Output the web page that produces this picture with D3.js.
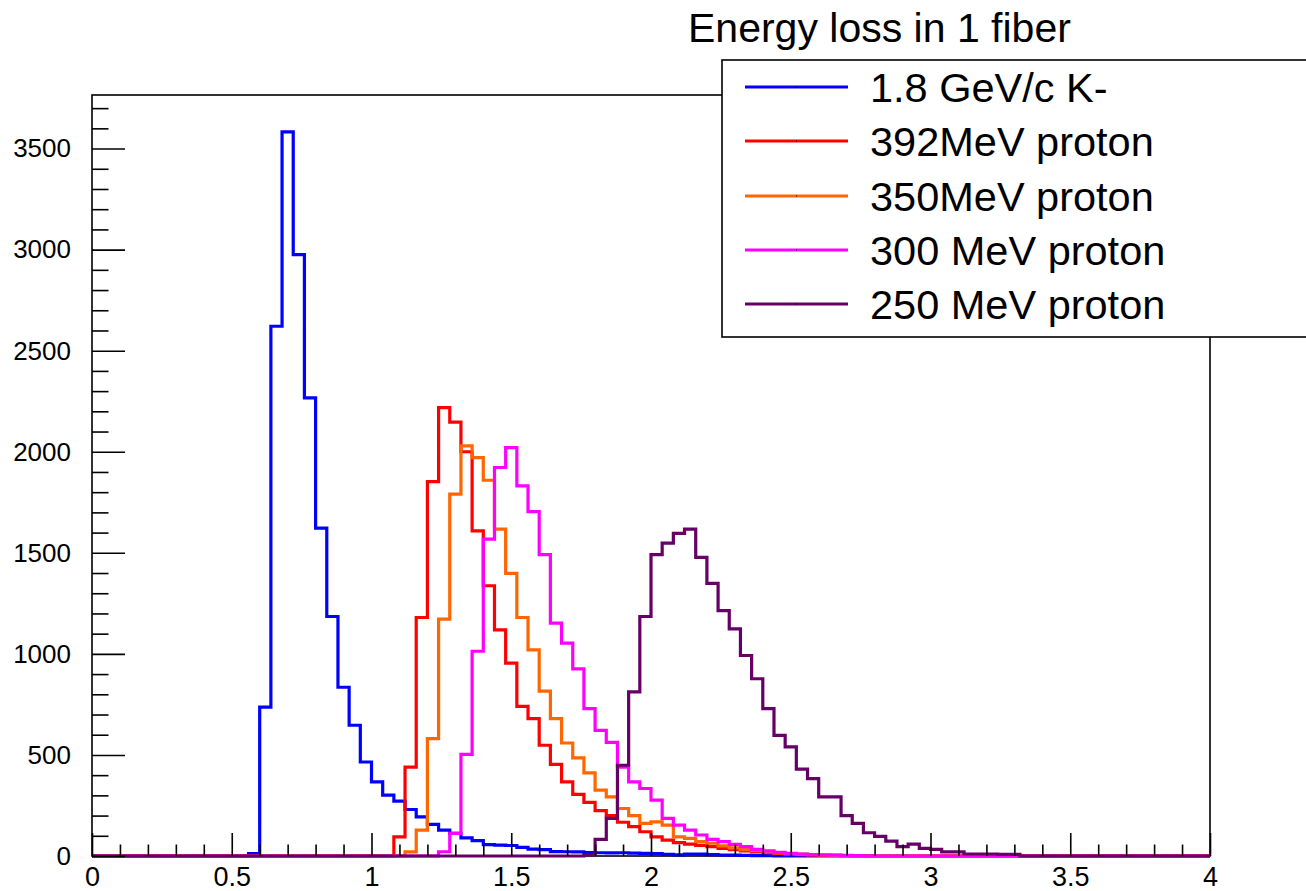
<!DOCTYPE html>
<html>
<head>
<meta charset="utf-8">
<script src="https://cdn.jsdelivr.net/npm/d3@7"></script>
<style>
  html, body { margin: 0; padding: 0; background: #ffffff; }
  svg { display: block; font-family: "Liberation Sans", Arial, Helvetica, sans-serif; }
</style>
</head>
<body>
<svg id="chart" width="1306" height="891"></svg>
<script>
// Histogram binning: 100 bins of 0.04 between 0 and 4
const xMin = 0, xMax = 4, binWidth = 0.04;
const yMax = 3765;

// Bin contents, each series listed from its first non-empty bin
const kaonStart = 0.56;
const kaonCounts = [12, 737, 2621, 3583, 2975, 2267, 1622, 1185, 835, 647, 465, 367, 301, 271, 230, 194,
  156, 128, 112, 90, 76, 56, 54, 52, 43, 34, 32, 22, 21, 20, 17, 16, 15, 16, 14, 13, 12, 8, 6, 10, 9, 7,
  5, 4, 3, 2, 2, 1];

const proton392Start = 1.08;
const proton392Counts = [95, 440, 1180, 1852, 2218, 2147, 2000, 1609, 1337, 1119, 954, 740, 680, 548, 453,
  367, 305, 265, 224, 200, 167, 145, 120, 95, 79, 66, 59, 53, 46, 38, 31, 25, 20, 16, 12, 9, 7, 5, 4, 3, 2, 1];

const proton350Start = 1.12;
const proton350Counts = [20, 128, 581, 1172, 1790, 2029, 1971, 1859, 1617, 1398, 1180, 1020, 816, 680, 559,
  485, 411, 326, 293, 235, 200, 161, 169, 153, 95, 87, 71, 63, 50, 40, 32, 26, 20, 15, 12, 9, 7, 5, 3, 2, 1];

const proton300Start = 1.24;
const proton300Counts = [21, 112, 503, 1013, 1568, 1922, 2020, 1831, 1704, 1491, 1152, 1053, 926, 729, 622,
  562, 440, 367, 334, 276, 186, 153, 128, 104, 82, 71, 58, 46, 33, 25, 18, 13, 10, 7, 5, 4, 3, 2, 1];

const proton250Start = 1.76;
const proton250Counts = [5, 82, 186, 449, 812, 1185, 1491, 1548, 1596, 1617, 1477, 1349, 1214, 1124, 992,
  877, 729, 597, 540, 430, 383, 293, 293, 200, 161, 115, 97, 74, 46, 59, 38, 33, 20, 20, 10, 10, 10, 8, 8];

const seriesNames = ["1.8 GeV/c K-", "392MeV proton", "350MeV proton", "300 MeV proton", "250 MeV proton"];
const seriesColors = ["#0000ff", "#ff0000", "#ff6600", "#ff00ff", "#660066"];
const seriesStarts = [kaonStart, proton392Start, proton350Start, proton300Start, proton250Start];
const seriesCounts = [kaonCounts, proton392Counts, proton350Counts, proton300Counts, proton250Counts];

const xTickValues = [0, 0.5, 1, 1.5, 2, 2.5, 3, 3.5, 4];
const xTickLabels = ["0", "0.5", "1", "1.5", "2", "2.5", "3", "3.5", "4"];
const yTickValues = [0, 500, 1000, 1500, 2000, 2500, 3000, 3500];
const yTickLabels = ["0", "500", "1000", "1500", "2000", "2500", "3000", "3500"];

const titleText = "Energy loss in 1 fiber";

// Frame geometry
const frame = { left: 92, top: 95, right: 1210, bottom: 856 };

const svg = d3.select("#chart");
const x = d3.scaleLinear().domain([xMin, xMax]).range([frame.left, frame.right]);
const y = d3.scaleLinear().domain([0, yMax]).range([frame.bottom, frame.top]);

// Frame box
svg.append("rect")
  .attr("x", frame.left).attr("y", frame.top)
  .attr("width", frame.right - frame.left).attr("height", frame.bottom - frame.top)
  .attr("fill", "none").attr("stroke", "#000").attr("stroke-width", 1.6);

// Step outline for one histogram
function stepPoints(start, counts) {
  const pts = [[xMin, 0], [start, 0]];
  counts.forEach((v, i) => {
    const lo = start + i * binWidth;
    pts.push([lo, v], [lo + binWidth, v]);
  });
  pts.push([start + counts.length * binWidth, 0], [xMax, 0]);
  return pts;
}

const line = d3.line().x(d => x(d[0])).y(d => y(d[1]));

const histLayer = svg.append("g");
seriesCounts.forEach((counts, k) => {
  histLayer.append("path")
    .attr("d", line(stepPoints(seriesStarts[k], counts)))
    .attr("fill", "none")
    .attr("stroke", seriesColors[k])
    .attr("stroke-width", 3.2)
    .attr("stroke-linejoin", "miter");
});

// X axis: major and minor ticks pointing into the frame
const xMinor = d3.range(0, 41).map(i => i / 10).filter(v => !xTickValues.includes(v));
svg.append("g")
  .attr("transform", `translate(0,${frame.bottom})`)
  .call(d3.axisBottom(x).tickValues(xMinor).tickSizeInner(-11.5).tickSizeOuter(0).tickFormat(""))
  .call(g => g.select(".domain").remove())
  .call(g => g.selectAll("line").attr("stroke", "#000").attr("stroke-width", 1.6));

svg.append("g")
  .attr("transform", `translate(0,${frame.bottom})`)
  .call(d3.axisBottom(x).tickValues(xTickValues).tickSizeInner(-23).tickSizeOuter(0)
    .tickPadding(11).tickFormat((d, i) => xTickLabels[i]))
  .call(g => g.select(".domain").remove())
  .call(g => g.selectAll("line").attr("stroke", "#000").attr("stroke-width", 1.6))
  .call(g => g.selectAll("text").attr("font-size", 27).attr("fill", "#000")
    .attr("font-family", "Liberation Sans, Arial, sans-serif"));

// Y axis
const yMinor = d3.range(0, yMax, 100).filter(v => !yTickValues.includes(v));
svg.append("g")
  .attr("transform", `translate(${frame.left},0)`)
  .call(d3.axisLeft(y).tickValues(yMinor).tickSizeInner(-16.5).tickSizeOuter(0).tickFormat(""))
  .call(g => g.select(".domain").remove())
  .call(g => g.selectAll("line").attr("stroke", "#000").attr("stroke-width", 1.6));

svg.append("g")
  .attr("transform", `translate(${frame.left},0)`)
  .call(d3.axisLeft(y).tickValues(yTickValues).tickSizeInner(-33).tickSizeOuter(0)
    .tickPadding(21).tickFormat((d, i) => yTickLabels[i]))
  .call(g => g.select(".domain").remove())
  .call(g => g.selectAll("line").attr("stroke", "#000").attr("stroke-width", 1.6))
  .call(g => g.selectAll("text").attr("font-size", 26).attr("fill", "#000")
    .attr("font-family", "Liberation Sans, Arial, sans-serif"));

// Title
svg.append("text")
  .attr("x", 688).attr("y", 42)
  .attr("font-size", 41).attr("fill", "#000")
  .text(titleText);

// Legend
const legend = svg.append("g");
legend.append("rect")
  .attr("x", 722).attr("y", 60).attr("width", 620).attr("height", 277)
  .attr("fill", "#fff").attr("stroke", "#000").attr("stroke-width", 1.6);

const legendRows = [87, 141, 196, 250, 304];
seriesNames.forEach((name, k) => {
  const cy = legendRows[k];
  legend.append("line")
    .attr("x1", 745).attr("x2", 848).attr("y1", cy).attr("y2", cy)
    .attr("stroke", seriesColors[k]).attr("stroke-width", 3.2);
  legend.append("rect")
    .attr("x", 796).attr("y", cy - 0.5).attr("width", 1).attr("height", 1)
    .attr("fill", "#000");
  legend.append("text")
    .attr("x", 870).attr("y", cy)
    .attr("dy", "0.36em")
    .attr("font-size", 41.5).attr("fill", "#000")
    .text(name);
});
</script>
</body>
</html>
